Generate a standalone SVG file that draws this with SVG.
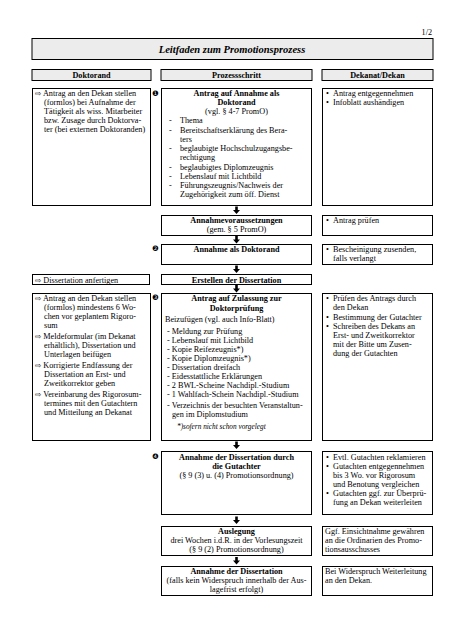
<svg xmlns="http://www.w3.org/2000/svg" width="452" height="640" viewBox="0 0 452 640">
<style>
text{font-family:"Liberation Serif","Times New Roman",serif;font-size:8.2px;fill:#000}
.b{font-weight:bold}
.c{text-anchor:middle}
.box{fill:#fff;stroke:#000;stroke-width:1}
.hd{fill:#ececec;stroke:#000;stroke-width:1}
.ar{font-family:"DejaVu Sans",sans-serif;font-size:7.5px}
.num{font-family:"DejaVu Sans",sans-serif;font-size:7.5px}
.arrow{fill:#000}
</style>
<defs>
<path id="dn" d="M-1.3,0 H1.3 V3.5 H3.5 L0,7.5 L-3.5,3.5 H-1.3 Z"/>
</defs>
<rect width="452" height="640" fill="#fff"/>

<g id="title">
<text x="432" y="35" style="text-anchor:end">1/2</text>
<rect class="hd" x="32" y="38.5" width="401" height="21"/>
<text x="232" y="53" class="c" style="font-weight:bold;font-style:italic;font-size:10.5px">Leitfaden zum Promotionsprozess</text>
</g>

<g id="header-doktorand"><rect class="hd" x="32" y="69.5" width="119" height="11"/><text x="91.5" y="78" class="b c">Doktorand</text></g>
<g id="header-prozess"><rect class="hd" x="161" y="69.5" width="151" height="11"/><text x="236.5" y="78" class="b c">Prozessschritt</text></g>
<g id="header-dekanat"><rect class="hd" x="322" y="69.5" width="111" height="11"/><text x="377.5" y="78" class="b c">Dekanat/Dekan</text></g>

<!-- Section 1 -->
<g id="d1">
<rect class="box" x="32.5" y="88.5" width="118" height="117"/>
<text x="35" y="96"><tspan class="ar">⇨</tspan> Antrag an den Dekan stellen</text>
<text x="44" y="105">(formlos) bei Aufnahme der</text>
<text x="44" y="114">Tätigkeit als wiss. Mitarbeiter</text>
<text x="44" y="123">bzw. Zusage durch Doktorva-</text>
<text x="44" y="132">ter (bei externen Doktoranden)</text>
</g>
<g id="p1">
<text x="152" y="96" class="num">❶</text>
<rect class="box" x="161.5" y="88.5" width="150" height="117"/>
<text x="236.5" y="96" class="b c">Antrag auf Annahme als</text>
<text x="236.5" y="105" class="b c">Doktorand</text>
<text x="236.5" y="114" class="c">(vgl. § 4-7 PromO)</text>
<text x="169" y="123">-</text><text x="180" y="123">Thema</text>
<text x="169" y="132.5">-</text><text x="180" y="132.5">Bereitschaftserklärung des  Bera-</text>
<text x="180" y="141.5">ters</text>
<text x="169" y="151">-</text><text x="180" y="151">beglaubigte Hochschulzugangsbe-</text>
<text x="180" y="160">rechtigung</text>
<text x="169" y="169.5">-</text><text x="180" y="169.5">beglaubigtes Diplomzeugnis</text>
<text x="169" y="178.5">-</text><text x="180" y="178.5">Lebenslauf mit Lichtbild</text>
<text x="169" y="187.5">-</text><text x="180" y="187.5">Führungszeugnis/Nachweis der</text>
<text x="180" y="197">Zugehörigkeit zum öff. Dienst</text>
</g>
<g id="k1">
<rect class="box" x="322.5" y="88.5" width="110" height="117"/>
<text x="326" y="96">•</text><text x="333" y="96">Antrag entgegennehmen</text>
<text x="326" y="105">•</text><text x="333" y="105">Infoblatt aushändigen</text>
</g>

<g id="p1b">
<rect class="box" x="161.5" y="215.5" width="150" height="20"/>
<text x="236.5" y="223" class="b c">Annahmevoraussetzungen</text>
<text x="236.5" y="232" class="c">(gem. § 5 PromO)</text>
</g>
<g id="k1b">
<rect class="box" x="322.5" y="215.5" width="110" height="20"/>
<text x="326" y="223">•</text><text x="333" y="223">Antrag prüfen</text>
</g>

<g id="p2">
<text x="152" y="251" class="num">❷</text>
<rect class="box" x="161.5" y="244.5" width="150" height="20"/>
<text x="236.5" y="252" class="b c">Annahme als Doktorand</text>
</g>
<g id="k2">
<rect class="box" x="322.5" y="244.5" width="110" height="20"/>
<text x="326" y="252">•</text><text x="333" y="252">Bescheinigung zusenden,</text>
<text x="333" y="261">falls verlangt</text>
</g>

<g id="d2">
<rect class="box" x="32.5" y="274.5" width="117" height="10"/>
<text x="35" y="282.5"><tspan class="ar">⇨</tspan> Dissertation anfertigen</text>
</g>
<g id="p2b">
<rect class="box" x="161.5" y="274.5" width="150" height="10"/>
<text x="236.5" y="282.5" class="b c">Erstellen der Dissertation</text>
</g>

<!-- Section 3 -->
<g id="d3">
<rect class="box" x="32.5" y="293.5" width="118" height="147"/>
<text x="35" y="301"><tspan class="ar">⇨</tspan> Antrag an den Dekan stellen</text>
<text x="44" y="310">(formlos) mindestens 6 Wo-</text>
<text x="44" y="319">chen vor geplantem Rigoro-</text>
<text x="44" y="328">sum</text>
<text x="35" y="339"><tspan class="ar">⇨</tspan> Meldeformular (im Dekanat</text>
<text x="44" y="348">erhältlich), Dissertation und</text>
<text x="44" y="357">Unterlagen beifügen</text>
<text x="35" y="368"><tspan class="ar">⇨</tspan> Korrigierte Endfassung der</text>
<text x="44" y="377">Dissertation an Erst- und</text>
<text x="44" y="386">Zweitkorrektor geben</text>
<text x="35" y="397"><tspan class="ar">⇨</tspan> Vereinbarung des Rigorosum-</text>
<text x="44" y="406">termines mit den Gutachtern</text>
<text x="44" y="415">und Mitteilung an Dekanat</text>
</g>
<g id="p3">
<text x="152" y="300" class="num">❸</text>
<rect class="box" x="161.5" y="293.5" width="150" height="147"/>
<text x="236.5" y="301" class="b c">Antrag auf Zulassung zur</text>
<text x="236.5" y="310.5" class="b c">Doktorprüfung</text>
<text x="165" y="322">Beizufügen (vgl. auch Info-Blatt)</text>
<text x="167" y="333.5">- Meldung zur Prüfung</text>
<text x="167" y="342.5">- Lebenslauf mit Lichtbild</text>
<text x="167" y="351.5">- Kopie Reifezeugnis*)</text>
<text x="167" y="360.5">- Kopie Diplomzeugnis*)</text>
<text x="167" y="370">- Dissertation dreifach</text>
<text x="167" y="379">- Eidesstattliche Erklärungen</text>
<text x="167" y="388">- 2 BWL-Scheine Nachdipl.-Studium</text>
<text x="167" y="397">- 1 Wahlfach-Schein Nachdipl.-Studium</text>
<text x="167" y="408">- Verzeichnis der besuchten Veranstaltun-</text>
<text x="172" y="417">gen im Diplomstudium</text>
<text x="177" y="429" style="font-style:italic;font-size:7.3px">*)sofern nicht schon vorgelegt</text>
</g>
<g id="k3">
<rect class="box" x="322.5" y="293.5" width="110" height="147"/>
<text x="326" y="301">•</text><text x="333" y="301">Prüfen des Antrags durch</text>
<text x="333" y="310">den Dekan</text>
<text x="326" y="319.5">•</text><text x="333" y="319.5">Bestimmung der Gutachter</text>
<text x="326" y="328.5">•</text><text x="333" y="328.5">Schreiben des Dekans an</text>
<text x="333" y="337.5">Erst- und Zweitkorrektor</text>
<text x="333" y="346.5">mit der Bitte um Zusen-</text>
<text x="333" y="355.5">dung der Gutachten</text>
</g>

<!-- Section 4 -->
<g id="p4">
<text x="152" y="459" class="num">❹</text>
<rect class="box" x="161.5" y="451.5" width="150" height="63"/>
<text x="236.5" y="459.5" class="b c">Annahme der Dissertation durch</text>
<text x="236.5" y="468.5" class="b c">die Gutachter</text>
<text x="236.5" y="478" class="c">(§ 9 (3) u. (4) Promotionsordnung)</text>
</g>
<g id="k4">
<rect class="box" x="322.5" y="451.5" width="110" height="63"/>
<text x="326" y="459.5">•</text><text x="333" y="459.5">Evtl. Gutachten reklamieren</text>
<text x="326" y="468.5">•</text><text x="333" y="468.5">Gutachten entgegennehmen</text>
<text x="333" y="477.5">bis 3 Wo. vor Rigorosum</text>
<text x="333" y="486.5">und Benotung vergleichen</text>
<text x="326" y="495.5">•</text><text x="333" y="495.5">Gutachten ggf. zur Überprü-</text>
<text x="333" y="504.5">fung an Dekan weiterleiten</text>
</g>

<g id="p5">
<rect class="box" x="161.5" y="526.5" width="150" height="29"/>
<text x="236.5" y="534" class="b c">Auslegung</text>
<text x="236.5" y="543" class="c">drei Wochen i.d.R. in der Vorlesungszeit</text>
<text x="236.5" y="552" class="c">(§ 9 (2) Promotionsordnung)</text>
</g>
<g id="k5">
<rect class="box" x="322.5" y="526.5" width="110" height="29"/>
<text x="325" y="534">Ggf. Einsichtnahme gewähren</text>
<text x="325" y="543">an die Ordinarien des Promo-</text>
<text x="325" y="552">tionsausschusses</text>
</g>

<g id="p6">
<rect class="box" x="161.5" y="566.5" width="150" height="29"/>
<text x="236.5" y="574" class="b c">Annahme der Dissertation</text>
<text x="236.5" y="583" class="c">(falls kein Widerspruch innerhalb der Aus-</text>
<text x="236.5" y="592" class="c">lagefrist erfolgt)</text>
</g>
<g id="k6">
<rect class="box" x="322.5" y="566.5" width="110" height="29"/>
<text x="325" y="574">Bei Widerspruch Weiterleitung</text>
<text x="325" y="583">an den Dekan.</text>
</g>

<g id="connectors" class="arrow">
<use href="#dn" x="236.5" y="206.5"/>
<use href="#dn" x="236.5" y="236"/>
<use href="#dn" x="236.5" y="265.5"/>
<use href="#dn" x="236.5" y="285"/>
<use href="#dn" x="236.5" y="441.5"/>
<use href="#dn" x="236.5" y="516.5"/>
<use href="#dn" x="236.5" y="557"/>
</g>
</svg>
